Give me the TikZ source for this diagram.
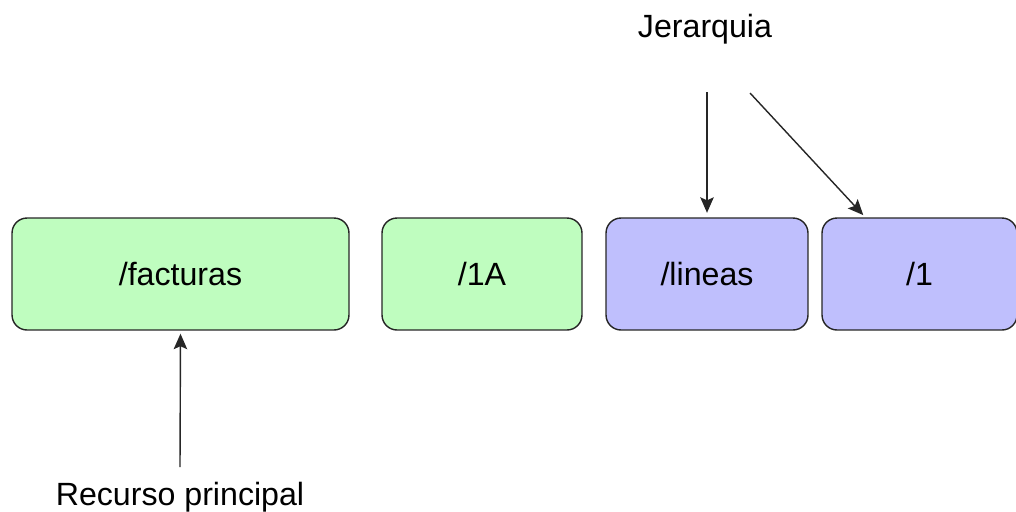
\documentclass[tikz,border=0pt]{standalone}
\usepackage{fontspec}
\setmainfont{Liberation Sans}
\usetikzlibrary{arrows.meta}
\definecolor{verde}{RGB}{191,253,191}
\definecolor{lila}{RGB}{191,191,253}

\begin{document}
\begin{tikzpicture}[x=0.02cm, y=-0.02cm,
    seg/.style={draw=black!85, line width=0.8pt, rounded corners=0.3cm,
        minimum height=2.24cm, inner sep=0pt,
        font=\fontsize{18.3}{22}\selectfont},
    verdebox/.style={seg, fill=verde},
    lilabox/.style={seg, fill=lila},
    etiqueta/.style={font=\fontsize{18.3}{22}\selectfont, inner sep=0pt},
    flecha/.style={-{Stealth[length=0.31cm, width=0.27cm, inset=0.06cm]},
        line width=0.8pt, black!85}]
    \useasboundingbox (0,0) rectangle (1016,511);
    \node[verdebox, minimum width=6.74cm](fact) at (180.5,274) {/facturas};
    \node[verdebox, minimum width=4cm](id)      at (482,274)   {/1A};
    \node[lilabox, minimum width=4.04cm](lin)   at (707,274)   {/lineas};
    \node[lilabox, minimum width=3.9cm](uno)    at (919.5,274) {/1};
    \node[etiqueta](jer)                        at (705,29)    {Jerarquia};
    \node[etiqueta](rec)                        at (180,497)   {Recurso principal};
    \coordinate (j1) at (707,92);
    \coordinate (j2) at (750,93);
    \coordinate (r1) at (180,467);
    \path
        (j1)
            edge [flecha, shorten >=0.09cm] (lin.north)
        (j2)
            edge [flecha, shorten >=0.06cm] ([xshift=0.88cm]uno.north west)
        (r1)
            edge [flecha, shorten >=0.06cm] (fact.south)
        ;
\end{tikzpicture}
\end{document}
